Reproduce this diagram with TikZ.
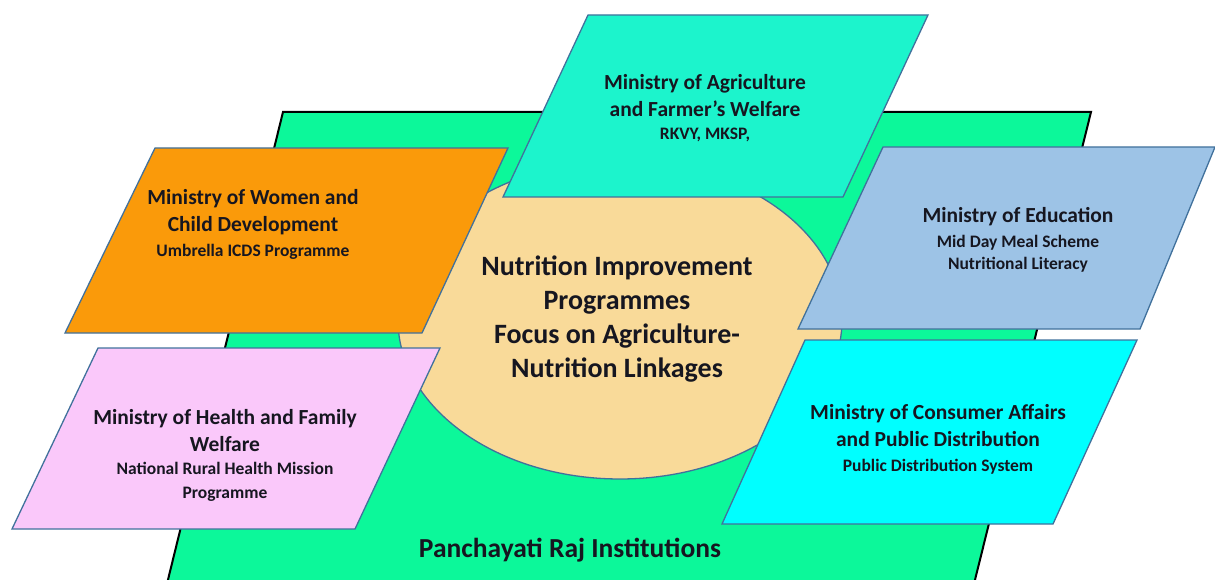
\documentclass[tikz,border=0pt]{standalone}
\usepackage{fontspec}
\setmainfont{Carlito}
\usetikzlibrary{positioning}
\definecolor{prigreen}{HTML}{0CF89A}
\definecolor{agrigreen}{HTML}{1CF4CC}
\definecolor{wcdorange}{HTML}{FA9A0A}
\definecolor{healthpink}{HTML}{FAC8FA}
\definecolor{edublue}{HTML}{9DC3E6}
\definecolor{pdscyan}{HTML}{00FFFF}
\definecolor{hubtan}{HTML}{F9DA99}
\definecolor{boxedge}{HTML}{41719C}
\definecolor{inkdark}{HTML}{161620}
\newcommand{\schemetxt}{\fontsize{17.5}{22}\selectfont}

\begin{document}
\begin{tikzpicture}[x=1pt,y=-1pt,
    minbox/.style={draw=boxedge,line width=1.3pt,line join=miter},
    mintext/.style={align=center,text=inkdark,font=\fontsize{21.5}{27}\selectfont\bfseries}]
  \useasboundingbox (0,0) rectangle (1215,580);
  % Panchayati Raj ground
  \filldraw[fill=prigreen,draw=black,line width=2pt]
    (283,112) -- (1091,112) -- (970,600) -- (163,600) -- cycle;
  \node[text=inkdark,font=\fontsize{27.5}{33}\selectfont\bfseries] (pri) at (570,550) {Panchayati Raj Institutions};
  % hub
  \filldraw[fill=hubtan,draw=boxedge,line width=1.3pt] (620,320) ellipse [x radius=222, y radius=159];
  \node[align=center,text=inkdark,font=\fontsize{28}{34}\selectfont\bfseries] (hub) at (617,319)
    {Nutrition Improvement\\Programmes\\Focus on Agriculture-\\Nutrition Linkages};
  % ministries
  \filldraw[minbox,fill=agrigreen] (588,15) -- (928,15) -- (843,197) -- (503,197) -- cycle;
  \node[mintext] (agri) at (705,108)
    {Ministry of Agriculture\\and Farmer’s Welfare\\[-4pt]{\schemetxt RKVY, MKSP,}};
  \filldraw[minbox,fill=wcdorange] (155,148) -- (508,148) -- (422,333) -- (65,333) -- cycle;
  \node[mintext] (wcd) at (253,224)
    {Ministry of Women and\\Child Development\\[-2pt]{\schemetxt Umbrella ICDS Programme}};
  \filldraw[minbox,fill=edublue] (883,147) -- (1215,147) -- (1140,329) -- (798,329) -- cycle;
  \node[mintext] (edu) at (1018,240)
    {Ministry of Education\\[-2pt]{\schemetxt Mid Day Meal Scheme}\\[-5pt]{\schemetxt Nutritional Literacy}};
  \filldraw[minbox,fill=healthpink] (98,348) -- (440,348) -- (355,529) -- (12,529) -- cycle;
  \node[mintext] (health) at (225,455)
    {Ministry of Health and Family\\Welfare\\[-4pt]{\schemetxt National Rural Health Mission}\\[-3pt]{\schemetxt Programme}};
  \filldraw[minbox,fill=pdscyan] (805,340) -- (1137,340) -- (1053,524) -- (722,524) -- cycle;
  \node[mintext] (pds) at (938,439)
    {Ministry of Consumer Affairs\\and Public Distribution\\[-2pt]{\schemetxt Public Distribution System}};
\end{tikzpicture}
\end{document}
